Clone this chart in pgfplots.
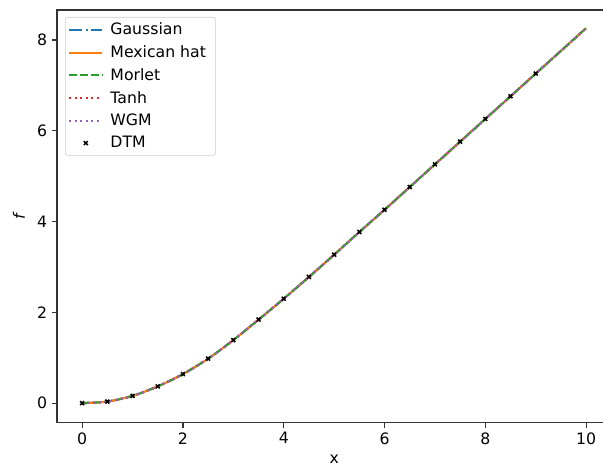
\documentclass[border=0pt]{standalone}
\usepackage{pgfplots}
\pgfplotsset{compat=1.18}
\usepackage{pgfplotstable}
\usepackage{fontspec}
\setmainfont{DejaVu Sans}
\usetikzlibrary{calc}
\definecolor{C0}{HTML}{1F77B4}
\definecolor{C1}{HTML}{FF7F0E}
\definecolor{C2}{HTML}{2CA02C}
\definecolor{C3}{HTML}{D62728}
\definecolor{C4}{HTML}{9467BD}
\pgfplotstableread{
x f
0 0
0.5 0.035
1 0.16
1.5 0.37
2 0.64
2.5 0.98
3 1.39
3.5 1.84
4 2.30
4.5 2.78
5 3.27
5.5 3.77
6 4.26
6.5 4.76
7 5.26
7.5 5.76
8 6.26
8.5 6.76
9 7.26
9.5 7.76
10 8.26
}\curve
\pgfplotstableread{
x f
0 0
0.5 0.035
1 0.16
1.5 0.37
2 0.64
2.5 0.98
3 1.39
3.5 1.84
4 2.30
4.5 2.78
5 3.27
5.5 3.77
6 4.26
6.5 4.76
7 5.26
7.5 5.76
8 6.26
8.5 6.76
9 7.26
}\dtm
\begin{document}
\begin{tikzpicture}
\begin{axis}[
  scale only axis,
  width=399pt, height=297pt,
  xmin=-0.5, xmax=10.5, ymin=-0.43, ymax=8.66,
  xtick={0,2,4,6,8,10}, ytick={0,2,4,6,8},
  tick align=outside, major tick length=3.5pt,
  xtick pos=bottom, ytick pos=left,
  axis line style={line width=0.8pt, black!80},
  tick style={line width=0.8pt, black!80},
  /pgf/number format/assume math mode=true,
  ticklabel style={font=\fontsize{11.3}{13.5}\selectfont},
  xlabel={x}, ylabel={\itshape f},
  label style={font=\fontsize{11.3}{13.5}\selectfont},
  xlabel style={yshift=-1pt},
  ylabel style={yshift=2pt},
  legend cell align=left,
  legend style={font=\fontsize{11.3}{13.5}\selectfont, draw=black!20, rounded corners=2pt, at={(rel axis cs:0,1)}, anchor=north west, xshift=5.8pt, yshift=-5pt, inner sep=2pt, row sep=2.3pt, nodes={inner xsep=5pt}},
  legend image code/.code={\draw[#1] (0pt,0pt) -- (24pt,0pt);},
]
\addplot[C0, line width=1.5pt, dash pattern=on 9.6pt off 2.4pt on 1.5pt off 2.4pt, smooth] table[x=x,y=f] {\curve};
\addlegendentry{Gaussian}
\addplot[C1, line width=1.5pt, smooth] table[x=x,y=f] {\curve};
\addlegendentry{Mexican hat}
\addplot[C2, line width=1.5pt, dash pattern=on 5.55pt off 2.4pt, smooth] table[x=x,y=f] {\curve};
\addlegendentry{Morlet}
\addplot[C3, line width=1.5pt, dash pattern=on 1.5pt off 2.5pt, smooth] table[x=x,y=f] {\curve};
\addlegendentry{Tanh}
\addplot[C4, line width=1.5pt, dash pattern=on 1.5pt off 2.5pt, smooth] table[x=x,y=f] {\curve};
\addlegendentry{WGM}
\addplot[only marks, mark=x, mark size=2pt, black, mark options={line width=1.1pt}, legend image code/.code={\draw[mark=x, mark size=2pt, line width=1.1pt] plot coordinates {(12pt,0pt)};}] table[x=x,y=f] {\dtm};
\addlegendentry{DTM}
\end{axis}
\pgfresetboundingbox
\path[use as bounding box] ($(current axis.south west)+(-41pt,-32.4pt)$) rectangle ($(current axis.north east)+(-6pt,7.2pt)$);
\end{tikzpicture}
\end{document}
